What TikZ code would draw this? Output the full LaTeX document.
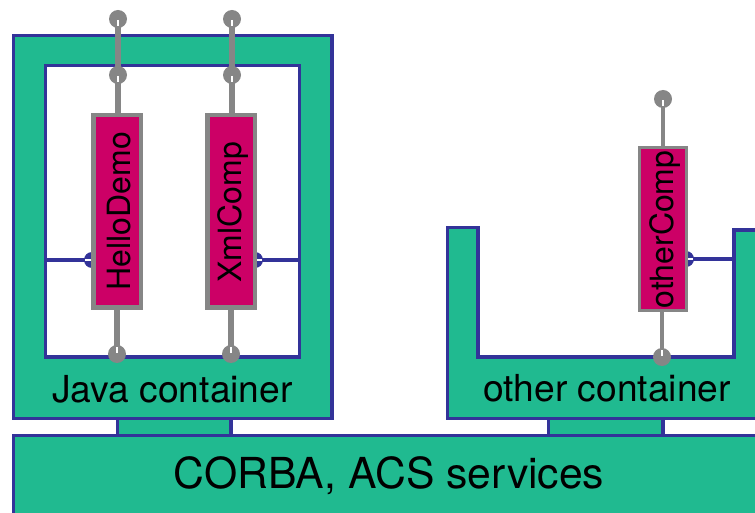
\documentclass[tikz,border=0pt]{standalone}
\usepackage{fontspec}
\setmainfont{TeX Gyre Heros}
\definecolor{cgreen}{HTML}{20BA90}
\definecolor{cblue}{HTML}{333399}
\definecolor{cmag}{HTML}{CC0066}
\definecolor{cgray}{HTML}{868686}
\newcommand{\fsz}[1]{\fontsize{#1bp}{#1bp}\selectfont}
\tikzset{
  box/.style={draw=cblue,fill=cgreen,line width=3.05bp,line join=miter},
  wire/.style={draw=cblue,line width=3.2bp},
  stem/.style={draw=cgray,line width=5.2bp},
  thinstem/.style={draw=cgray,line width=4.2bp},
  slit/.style={draw=white,line width=1.3bp},
  pin/.style={circle,fill=cgray,inner sep=0pt,minimum size=18bp},
  bluepin/.style={circle,fill=cblue,inner sep=0pt,minimum size=16bp},
  lab/.style={inner sep=0pt,text=black}
}
\begin{document}
\begin{tikzpicture}[x=1bp,y=-1bp]
\useasboundingbox (0,0) rectangle (755,513);
% containers
\draw[box,even odd rule] (13.6,35.6) -- (332,35.6) -- (332,418.6) -- (13.6,418.6) -- cycle
  (45.4,65.6) -- (299.8,65.6) -- (299.8,357) -- (45.4,357) -- cycle;
\draw[box] (447.5,227.6) -- (478,227.6) -- (478,357) -- (734,357) -- (734,230) -- (775,230) -- (775,418.6) -- (447.5,418.6) -- cycle;
\draw[box] (117.2,418.6) rectangle (231,435.3);
\draw[box] (548.5,418.6) rectangle (663,435.3);
\draw[box] (13.6,435.3) rectangle (775,530);
\node[lab,font=\fsz{37.2}] (jc) at (172.5,389) {Java container};
\node[lab,font=\fsz{37.2}] (oc) at (607,388) {other container};
\node[lab,font=\fsz{42.7}] (cs) at (389,476) {CORBA, ACS services};
% blue interface pins
\coordinate (wl) at (45,260);
\coordinate (wr) at (300,260);
\coordinate (wo) at (734,259);
\node[bluepin] (bh) at (92,260) {};
\node[bluepin] (bx) at (255,260) {};
\node[bluepin] (bo) at (686,259) {};
\draw[wire] (wl) -- (bh.center);
\draw[wire] (wr) -- (bx.center);
\draw[wire] (wo) -- (bo.center);
\draw[slit] (bh.west) ++(1,0) -- ++(8,0);
\draw[slit] (bx.east) ++(-1,0) -- ++(-8,0);
\draw[slit] (bo.east) ++(-1,0) -- ++(-8,0);
% component boxes
\path[draw=cgray,fill=cmag,line width=4.4bp] (93.5,115) rectangle (141,307.5);
\path[draw=cgray,fill=cmag,line width=4.4bp] (207.5,115) rectangle (255,307.5);
\path[draw=cgray,fill=cmag,line width=3bp] (639.5,147.5) rectangle (686.5,310.5);
\coordinate (ht) at (118,113);
\coordinate (hb) at (117,309);
\coordinate (xt) at (232,113);
\coordinate (xb) at (231,309);
\coordinate (ot) at (663,146);
\coordinate (ob) at (662,312);
\node[lab,rotate=90,font=\fsz{32}] (hd) at (119,211) {HelloDemo};
\node[lab,rotate=90,font=\fsz{32}] (xc) at (233,212.5) {XmlComp};
\node[lab,rotate=90,font=\fsz{32}] (oc2) at (665,229.5) {otherComp};
% grey pins
\node[pin] (p1) at (118,19) {};
\node[pin] (p2) at (118,75) {};
\node[pin] (p3) at (232,19) {};
\node[pin] (p4) at (232,75) {};
\node[pin] (p5) at (117,354) {};
\node[pin] (p6) at (231,354) {};
\node[pin] (p7) at (663,99) {};
\node[pin] (p8) at (662,357) {};
\draw[stem] (p1.center) -- (p2.center) -- (ht);
\draw[stem] (p3.center) -- (p4.center) -- (xt);
\draw[stem] (hb) -- (p5.center);
\draw[stem] (xb) -- (p6.center);
\draw[thinstem] (p7.center) -- (ot);
\draw[thinstem] (ob) -- (p8.center);
\draw[slit] (p1.center) ++(0,1) -- ++(0,6);
\draw[slit] (p2.center) ++(0,1) -- ++(0,6);
\draw[slit] (p3.center) ++(0,1) -- ++(0,6);
\draw[slit] (p4.center) ++(0,1) -- ++(0,6);
\draw[slit] (p5.center) ++(0,-1) -- ++(0,-6);
\draw[slit] (p6.center) ++(0,-1) -- ++(0,-6);
\draw[slit] (p7.center) ++(0,1) -- ++(0,6);
\draw[slit] (p8.center) ++(0,-1) -- ++(0,-6);
\end{tikzpicture}
\end{document}
